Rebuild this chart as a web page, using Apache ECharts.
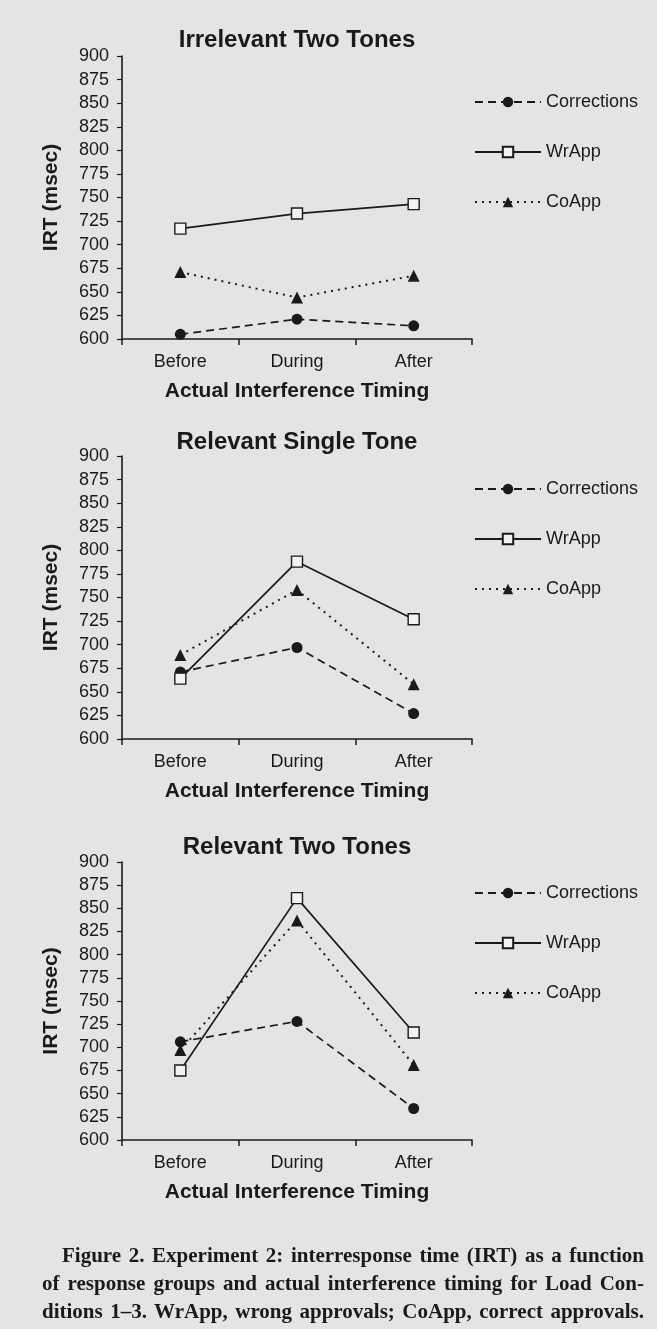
<!DOCTYPE html>
<html lang="en">
<head>
    <meta charset="UTF-8">
    <title>IRT by interference timing</title>
    <script src="https://cdn.jsdelivr.net/npm/echarts@6/dist/echarts.min.js"></script>
    <style>
        html, body { margin: 0; padding: 0; background: #e4e4e2; }
        #main { position: absolute; left: 0; top: 0; width: 657px; height: 1329px; }
        #caption { position: absolute; left: 42px; top: 1241px; width: 602px;
            font: bold 21px 'Liberation Serif', 'Times New Roman', serif; color: #1a1a1a; line-height: 28px; }
        #caption div { text-align: justify; text-align-last: justify; white-space: nowrap; }
    </style>
</head>
<body>
<div id="main"></div>
<div id="caption">
    <div style="padding-left: 20px;">Figure 2. Experiment 2: interresponse time (IRT) as a function</div>
    <div>of response groups and actual interference timing for Load Con-</div>
    <div>ditions 1&#8211;3. WrApp, wrong approvals; CoApp, correct approvals.</div>
</div>
<script>
    // 数据
    var categories = ['Before', 'During', 'After'];
    var panelTitles = ['Irrelevant Two Tones', 'Relevant Single Tone', 'Relevant Two Tones'];
    var seriesNames = ['Corrections', 'WrApp', 'CoApp'];

    var corrections1 = [605, 621, 614];
    var wrApp1 = [717, 733, 743];
    var coApp1 = [671, 644, 667];

    var corrections2 = [671, 697, 627];
    var wrApp2 = [664, 788, 727];
    var coApp2 = [689, 758, 658];

    var corrections3 = [706, 728, 634];
    var wrApp3 = [675, 861, 716];
    var coApp3 = [697, 837, 681];

    var yMin = 600, yMax = 900, yStep = 25;

    var panelData = [
        [corrections1, wrApp1, coApp1],
        [corrections2, wrApp2, coApp2],
        [corrections3, wrApp3, coApp3]
    ];

    // 布局
    var gridTops = [56, 456, 862];
    var gridHeights = [283, 283, 278];
    var titleTops = [28, 430, 835];
    var legendTops = [93, 480, 884];

    var ink = '#1a1a1a';
    var font = "'Liberation Sans', Arial, sans-serif";

    var myChart = echarts.init(document.getElementById('main'));

    var option = {
        backgroundColor: '#e4e4e2',
        animation: false,
        title: [],
        legend: [],
        grid: [],
        xAxis: [],
        yAxis: [],
        series: []
    };

    for (var p = 0; p < 3; p++) {
        option.title.push({
            text: panelTitles[p],
            left: 297,
            top: titleTops[p],
            textAlign: 'center',
            padding: 0,
            textStyle: { fontFamily: font, fontSize: 24, fontWeight: 'bold', color: ink }
        });
        option.legend.push({
            data: seriesNames,
            orient: 'vertical',
            left: 474,
            top: legendTops[p],
            padding: 0,
            itemWidth: 66,
            itemHeight: 13,
            itemGap: 32,
            textStyle: { fontFamily: font, fontSize: 18, color: ink }
        });
        option.grid.push({
            left: 122,
            right: 185,
            top: gridTops[p],
            height: gridHeights[p]
        });
        option.xAxis.push({
            type: 'category',
            gridIndex: p,
            data: categories,
            boundaryGap: true,
            name: 'Actual Interference Timing',
            nameLocation: 'middle',
            nameGap: 42,
            nameTextStyle: { fontFamily: font, fontSize: 21, fontWeight: 'bold', color: ink },
            axisLine: { lineStyle: { color: ink, width: 1.6 } },
            axisTick: { show: true, length: 6, lineStyle: { color: ink, width: 1.5 } },
            axisLabel: { fontFamily: font, fontSize: 18, color: ink, margin: 14 },
            splitLine: { show: false }
        });
        option.yAxis.push({
            type: 'value',
            gridIndex: p,
            min: yMin,
            max: yMax,
            interval: yStep,
            name: 'IRT (msec)',
            nameLocation: 'middle',
            nameGap: 60,
            nameTextStyle: { fontFamily: font, fontSize: 21, fontWeight: 'bold', color: ink },
            axisLine: { show: true, lineStyle: { color: ink, width: 1.6 } },
            axisTick: { show: true, length: 5, lineStyle: { color: ink, width: 1.2 } },
            axisLabel: { fontFamily: font, fontSize: 18, color: ink, margin: 13 },
            splitLine: { show: false }
        });

        var d = panelData[p];
        option.series.push({
            name: 'Corrections',
            type: 'line',
            xAxisIndex: p,
            yAxisIndex: p,
            data: d[0],
            symbol: 'circle',
            symbolSize: 11,
            itemStyle: { color: ink },
            lineStyle: { color: ink, width: 1.7, type: [8, 5] },
            z: 2
        });
        option.series.push({
            name: 'CoApp',
            type: 'line',
            xAxisIndex: p,
            yAxisIndex: p,
            data: d[2],
            symbol: 'triangle',
            symbolSize: 12,
            itemStyle: { color: ink },
            lineStyle: { color: ink, width: 2, type: [2, 5] },
            z: 3
        });
        option.series.push({
            name: 'WrApp',
            type: 'line',
            xAxisIndex: p,
            yAxisIndex: p,
            data: d[1],
            symbol: 'rect',
            symbolSize: 11,
            itemStyle: { color: '#f2f2f0', borderColor: ink, borderWidth: 1.4 },
            lineStyle: { color: ink, width: 1.7 },
            z: 4
        });
    }

    myChart.setOption(option);
</script>
</body>
</html>
